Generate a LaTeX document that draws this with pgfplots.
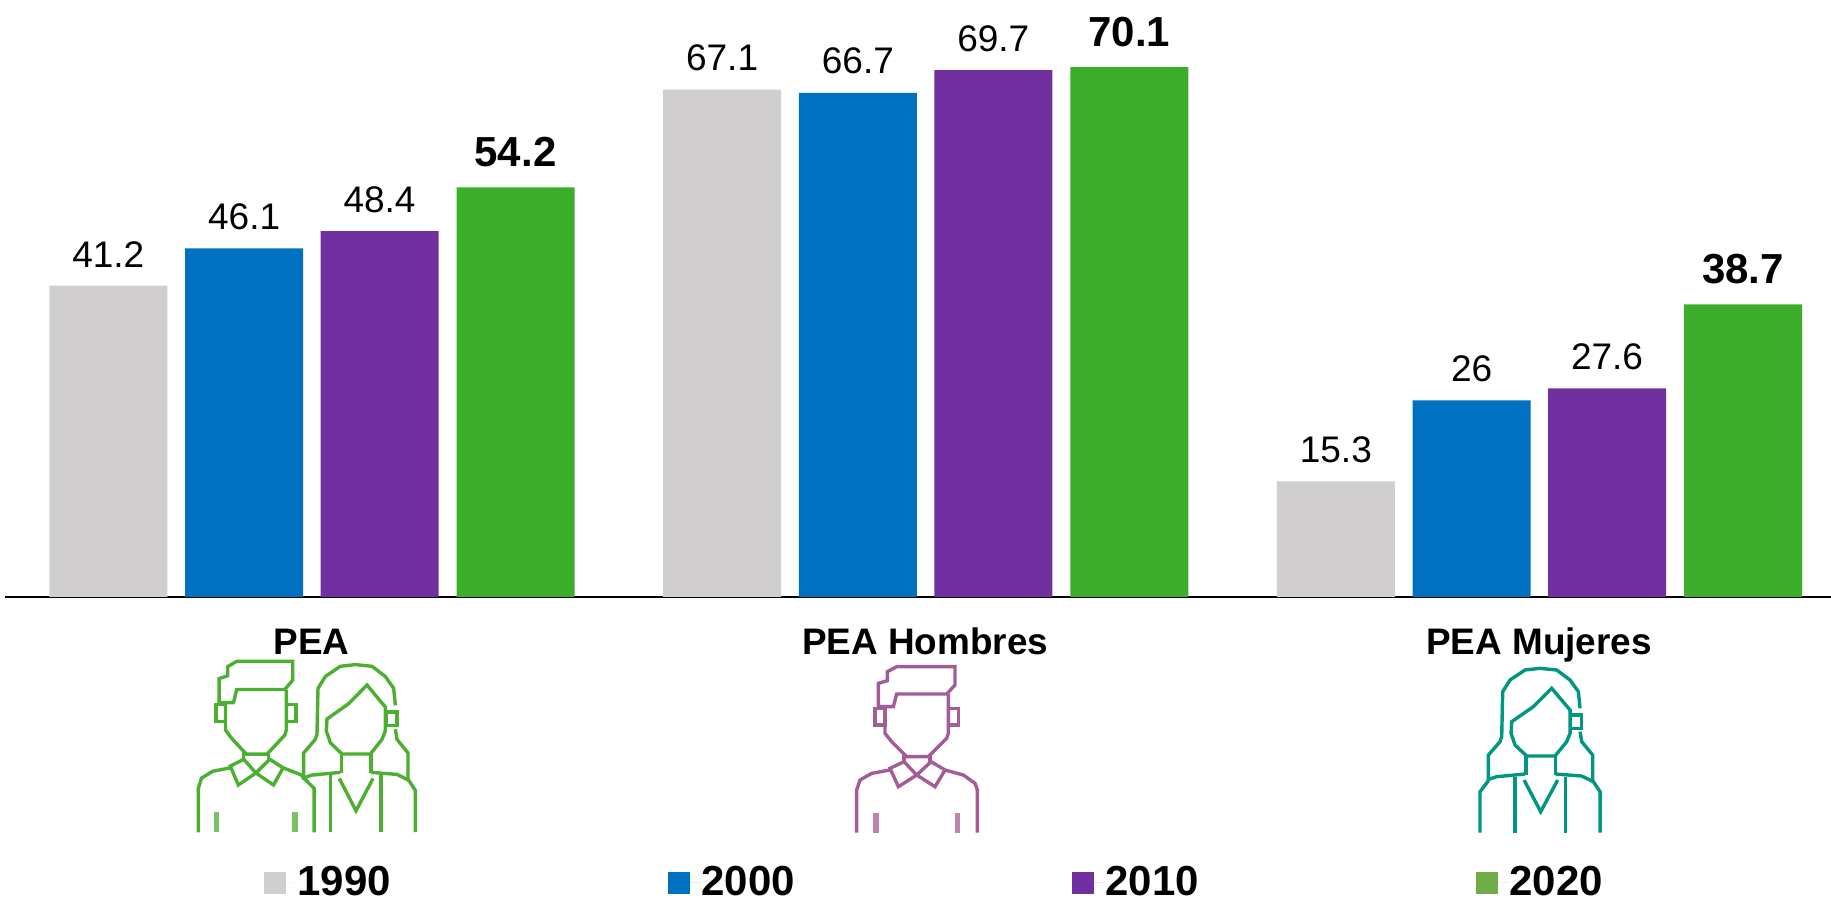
\documentclass[border=0pt]{standalone}
\usepackage{pgfplots}
\pgfplotsset{compat=1.18}
\usepackage{fontspec}
\setmainfont{Liberation Sans}
\definecolor{cg}{HTML}{D0CECE}
\definecolor{cb}{HTML}{0070C0}
\definecolor{cp}{HTML}{7030A0}
\definecolor{cv}{HTML}{3DAE2B}
\definecolor{cl}{HTML}{70AD47}
\definecolor{icong}{HTML}{4CAF32}
\definecolor{iconp}{HTML}{A45C96}
\definecolor{icont}{HTML}{009681}
\newcommand{\manhead}{%
 \draw (465,140) -- (290,140) -- (262,155) -- (262,182) -- (235,190) -- (235,260) -- (280,260) -- (290,222) -- (440,222) -- (465,195) -- cycle;
 \draw (225,265) rectangle (255,315);
 \draw (445,265) rectangle (475,315);
 \draw (255,260) -- (255,340) -- (275,365) -- (320,410) -- (385,410) -- (440,355) -- (445,340) -- (445,222);
 \draw (312,405) -- (312,425) (390,405) -- (390,425);
 \draw (350,465) -- (312,425) -- (270,445) -- (295,500) -- cycle;
 \draw (350,465) -- (393,425) -- (435,450) -- (405,500) -- cycle;
 \draw (270,450) -- (215,460) -- (180,480) -- (170,510) -- (170,638);
 \draw[line width=2.6pt,opacity=.75] (228,580) -- (228,638) (472,580) -- (472,638);
}
\newcommand{\womanhead}{%
 \draw (540,265) -- (535,215) -- (510,180) -- (470,150) -- (420,145) -- (375,150) -- (330,180) -- (308,215) -- (305,350) -- (300,365) -- (265,405) -- (265,485);
 \draw (540,335) -- (545,365) -- (578,405) -- (578,482);
 \draw (335,305) -- (400,260) -- (455,205) -- (510,270) -- (510,340) -- (500,365) -- (465,408) -- (380,408) -- (345,375) -- (333,340) -- cycle;
 \draw (512,285) rectangle (545,325);
 \draw (378,408) -- (378,465) (467,408) -- (467,465);
 \draw (372,480) -- (422,575) -- (473,480);
 \draw (265,478) -- (290,470) -- (375,462);
 \draw (467,462) -- (545,468) -- (580,485) -- (600,515) -- (600,638);
 \draw (345,470) -- (345,638) (497,470) -- (497,638);
}
\pgfplotsset{
 swatch/.style={legend image code/.code={\fill[#1] (0pt,-5.5pt) rectangle (11pt,5.5pt);\path (0pt,0pt) -- (16.8pt,0pt);}},
 lab/.style={nodes near coords style={font=#1,inner sep=0pt,anchor=south,yshift=9pt,text=black}},
 labb/.style={nodes near coords style={font=#1,inner sep=0pt,anchor=south,yshift=10pt,text=black}},
}
\begin{document}
\begin{tikzpicture}
\useasboundingbox (0,0) rectangle (915.5pt,449.5pt);
\begin{axis}[
 at={(2.5pt,151pt)}, anchor=south west,
 scale only axis, width=913pt, height=298.5pt,
 xmin=-0.4994, xmax=2.4757, ymin=0, ymax=78.97,
 axis x line=bottom, axis y line=none,
 axis line style={black,line width=.8pt,-},
 xtick={0,1,2}, xticklabels={PEA,PEA Hombres,PEA Mujeres},
 tick style={draw=none},
 x tick label style={font=\fontsize{18.45}{20}\selectfont\bfseries,text=black,anchor=base,yshift=-24.7pt},
 ybar, bar width=59pt, clip=false,
 nodes near coords,
 /pgf/number format/assume math mode=true,
 point meta=y,
 legend columns=4,
 legend cell align=left,
 legend style={draw=none,fill=none,inner sep=0pt,outer sep=0pt,
   at={(axis description cs:0.1417,-0.4786)},anchor=west,
   font=\fontsize{21}{24}\selectfont\bfseries,
   nodes={inner xsep=0pt,inner ysep=0pt},
   /tikz/every even column/.append style={column sep=138.5pt}},
]
\addplot[fill=cg,draw=none,bar shift=-101.6pt,swatch=cg,lab={\fontsize{18.5}{20}\selectfont}] coordinates {(0,41.2) (1,67.1) (2,15.3)};
\addplot[fill=cb,draw=none,bar shift=-33.7pt,swatch=cb,lab={\fontsize{18.5}{20}\selectfont}] coordinates {(0,46.1) (1,66.7) (2,26)};
\addplot[fill=cp,draw=none,bar shift=34pt,swatch=cp,lab={\fontsize{18.5}{20}\selectfont}] coordinates {(0,48.4) (1,69.7) (2,27.6)};
\addplot[fill=cv,draw=none,bar shift=102pt,swatch=cl,labb={\fontsize{21}{24}\selectfont\bfseries}] coordinates {(0,54.2) (1,70.1) (2,38.7)};
\legend{1990,2000,2010,2020}
\end{axis}
\begin{scope}[shift={(0pt,449.5pt)},x=.5pt,y=-.5pt]
 \begin{scope}[shift={(143.9,613.3)},x=.16pt,y=-.1717pt,draw=icong,line width=1.7pt]
  \manhead
  \draw (435,450) -- (490,470) -- (532,510) -- (532,638);
 \end{scope}
 \begin{scope}[shift={(215.3,615.3)},x=.1667pt,y=-.17pt,draw=icong,line width=1.7pt]
  \womanhead
 \end{scope}
 \begin{scope}[shift={(800,620)},x=.1667pt,y=-.1667pt,draw=iconp,line width=1.7pt]
  \manhead
  \draw (435,450) -- (490,465) -- (525,490) -- (532,510) -- (532,638);
 \end{scope}
 \begin{scope}[shift={(1400,620)},x=.1667pt,y=-.1667pt,draw=icont,line width=1.7pt]
  \womanhead
  \draw (240,638) -- (240,515) -- (265,482);
 \end{scope}
\end{scope}
\end{tikzpicture}
\end{document}
